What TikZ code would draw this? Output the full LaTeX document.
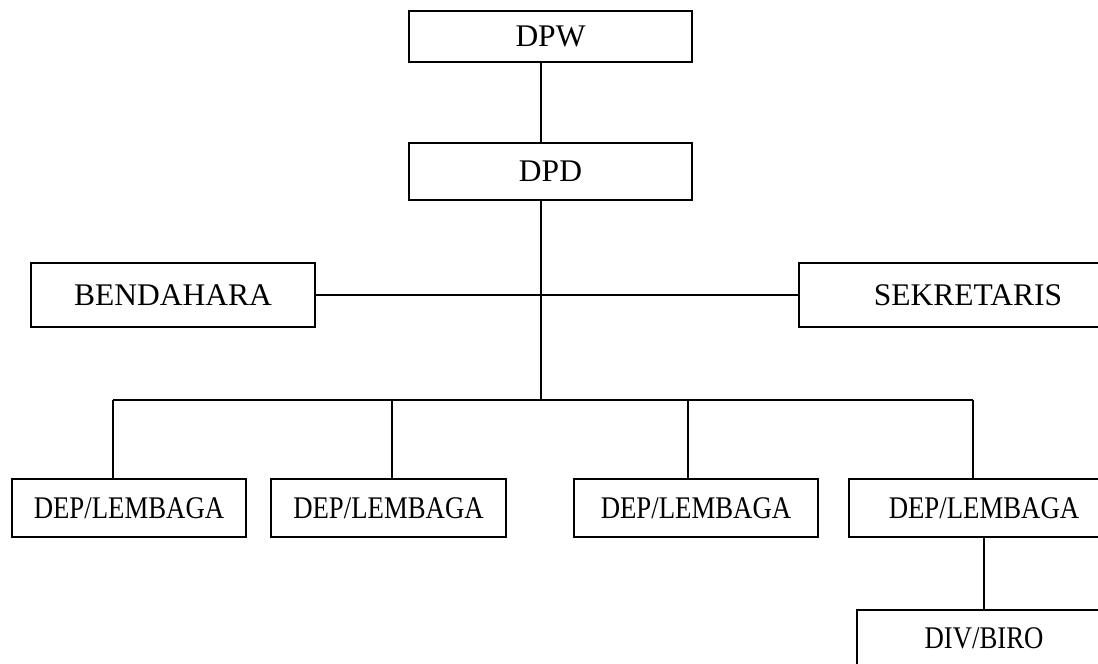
\documentclass[tikz,border=0pt]{standalone}
\usepackage{fontspec}
\setmainfont{Liberation Serif}
\begin{document}
\begin{tikzpicture}[x=1pt,y=-1pt,
  box/.style={draw, line width=1.5pt, inner sep=0pt, font=\fontsize{31.5}{31.5}\selectfont},
  link/.style={draw, line width=1.5pt}]
\useasboundingbox (0,0) rectangle (1098,664);
\clip (0,0) rectangle (1098,664);
\node[box, minimum width=283pt, minimum height=51pt] (dpw) at (550.5,36.5) {\raisebox{-3pt}{DPW}};
\node[box, minimum width=283pt, minimum height=57pt] (dpd) at (550.5,171.5) {DPD};
\node[box, minimum width=284pt, minimum height=64pt] (bend) at (173,295) {BENDAHARA};
\node[box, minimum width=338pt, minimum height=64pt] (sekr) at (968,295) {SEKRETARIS};
\node[box, minimum width=234pt, minimum height=58pt] (dep1) at (129,508) {\scalebox{0.85}[1]{DEP/LEMBAGA}};
\node[box, minimum width=235pt, minimum height=58pt] (dep2) at (388.5,508) {\scalebox{0.85}[1]{DEP/LEMBAGA}};
\node[box, minimum width=244pt, minimum height=58pt] (dep3) at (696,508) {\scalebox{0.85}[1]{DEP/LEMBAGA}};
\node[box, minimum width=270pt, minimum height=58pt] (dep4) at (984,508) {\scalebox{0.85}[1]{DEP/LEMBAGA}};
\node[box, minimum width=254pt, minimum height=90pt] (div) at (984,655) {};
\node[font=\fontsize{31.5}{31.5}\selectfont, inner sep=0pt] (divt) at (984,638.5) {\scalebox{0.85}[1]{DIV/BIRO}};
\coordinate (c) at (541,400);
\coordinate (b1) at (113,400);
\coordinate (b2) at (392,400);
\coordinate (b3) at (688,400);
\coordinate (b4) at (973,400);
\draw[link] (dpw.south -| c) -- (dpd.north -| c);
\draw[link] (dpd.south -| c) -- (c);
\draw[link] (bend.east) -- (sekr.west);
\draw[link] (b1) -- (b4);
\draw[link] (b1) -- (b1 |- dep1.north);
\draw[link] (b2) -- (b2 |- dep2.north);
\draw[link] (b3) -- (b3 |- dep3.north);
\draw[link] (b4) -- (b4 |- dep4.north);
\draw[link] (dep4.south) -- (div.north);
\end{tikzpicture}
\end{document}
